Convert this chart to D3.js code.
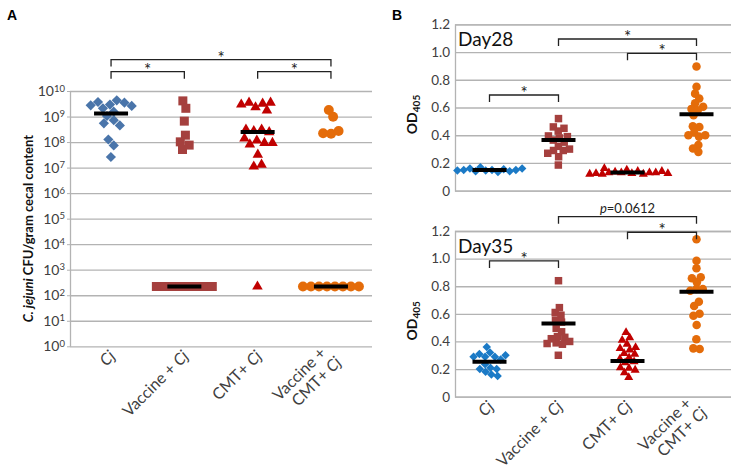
<!DOCTYPE html>
<html><head><meta charset="utf-8">
<script src="https://cdn.jsdelivr.net/npm/d3@7"></script>
<style>
body{margin:0;background:#fff;}
svg{display:block;font-family:Lato,"Open Sans",sans-serif;}
</style></head><body>
<svg id="chart" width="733" height="475"></svg>
<script>
// ---------- DATA ----------
const categories = ["Cj", "Vaccine + Cj", "CMT+ Cj", "Vaccine + CMT+ Cj"];
const categoryLines = [["Cj"], ["Vaccine + Cj"], ["CMT+ Cj"], ["Vaccine + ", "CMT+ Cj"]];

// Panel A: C. jejuni CFU / gram cecal content
const cfuCj = [3.7e9, 2.95e9, 2.1e9, 3.5e9, 1.55e9, 2.6e9, 2.75e9, 4.3e9, 1.05e9, 7.2e8, 5.4e8, 4.5e8, 1.26e8, 7.4e7, 2.6e7];
const cfuVaccine = [4.1e9, 2.1e9, 6.6e8, 1.86e8, 1.02e8, 7.6e7, 5.1e7, 220, 220, 220, 220, 220, 220, 220, 220];
const cfuCMT = [3.5e9, 3.2e9, 2.95e9, 1.74e9, 2.3e9, 3.5e9, 2.7e8, 3.1e8, 3.1e8, 2.45e8, 1.15e8, 9.3e7, 8.1e7, 9.3e7, 1.38e8, 3.2e7, 1.1e7, 1.3e7, 220];
const cfuVaccineCMT = [1.8e9, 9.8e8, 2.1e8, 2.7e8, 2.2e8, 220, 220, 220, 220, 220, 220, 220, 220];
const cfuMedians = [1.3e9, 220, 2.45e8, 220];
const cfuTicks = [1, 1e1, 1e2, 1e3, 1e4, 1e5, 1e6, 1e7, 1e8, 1e9, 1e10];
const cfuTickExponents = ["0", "1", "2", "3", "4", "5", "6", "7", "8", "9", "10"];
const cfuComparisons = [
  {a: 0, b: 3, label: "*", at: 1.7e11},
  {a: 0, b: 1, label: "*", at: 5.7e10},
  {a: 2, b: 3, label: "*", at: 5.7e10}
];

// Panel B: OD405, Day28
const odD28Cj = [0.14, 0.15, 0.135, 0.16, 0.15, 0.17, 0.145, 0.155, 0.14, 0.16, 0.145, 0.15];
const odD28Vaccine = [0.52, 0.45, 0.46, 0.43, 0.395, 0.38, 0.365, 0.39, 0.32, 0.29, 0.29, 0.30, 0.27, 0.245, 0.185, 0.35];
const odD28CMT = [0.16, 0.15, 0.14, 0.135, 0.13, 0.14, 0.13, 0.125, 0.13, 0.12, 0.125, 0.13, 0.12, 0.125, 0.12];
const odD28VaccineCMT = [0.895, 0.75, 0.70, 0.665, 0.63, 0.605, 0.59, 0.58, 0.545, 0.46, 0.465, 0.42, 0.39, 0.40, 0.40, 0.33, 0.305, 0.28];
const odD28Medians = [0.15, 0.365, 0.132, 0.552];
const day28Comparisons = [
  {a: 0, b: 1, label: "*", at: 0.69},
  {a: 1, b: 3, label: "*", at: 1.094},
  {a: 2, b: 3, label: "*", at: 0.991}
];

// Panel B: OD405, Day35
const odD35Cj = [0.18, 0.16, 0.32, 0.29, 0.20, 0.27, 0.29, 0.21, 0.31, 0.20, 0.36, 0.30, 0.235, 0.15, 0.29];
const odD35Vaccine = [0.84, 0.61, 0.645, 0.59, 0.555, 0.54, 0.495, 0.47, 0.435, 0.43, 0.385, 0.39, 0.42, 0.38, 0.30, 0.40];
const odD35CMT = [0.465, 0.427, 0.41, 0.38, 0.338, 0.357, 0.35, 0.282, 0.314, 0.309, 0.273, 0.253, 0.246, 0.206, 0.21, 0.193, 0.174, 0.14];
const odD35VaccineCMT = [1.14, 0.985, 0.93, 0.865, 0.857, 0.828, 0.78, 0.78, 0.768, 0.688, 0.657, 0.60, 0.587, 0.52, 0.416, 0.345, 0.35];
const odD35Medians = [0.253, 0.531, 0.258, 0.76];
const day35Comparisons = [
  {a: 0, b: 1, label: "*", at: 0.983},
  {a: 1, b: 3, label: "p=0.0612", at: 1.304},
  {a: 2, b: 3, label: "*", at: 1.191}
];
const odTicks = [0, 0.2, 0.4, 0.6, 0.8, 1.0, 1.2];
const odTickLabels = ["0", "0.2", "0.4", "0.6", "0.8", "1.0", "1.2"];

// ---------- STYLE ----------
const markerTypes = ["diamond", "square", "triangle", "circle"];
const colorsA = ["#4a75aa", "#a5403e", "#c00000", "#e46c0a"];
const colorsB = ["#1b7ac6", "#a5403e", "#c00000", "#e46c0a"];
const gridColor = "#b3b3b3";
const textColor = "#404040";

const svg = d3.select("#chart");

function symbolPath(type, big) {
  if (type === "diamond") return d3.symbol(d3.symbolSquare, big ? 52 : 36)();
  if (type === "square") return d3.symbol(d3.symbolSquare, big ? 81 : 56)();
  if (type === "triangle") return d3.symbol(d3.symbolTriangle, big ? 48 : 35)();
  return d3.symbol(d3.symbolCircle, big ? 78 : 57)();
}

function swarm(values, cx, yScale, r) {
  const nodes = values.map((v, i) => ({v, fy: yScale(v), y: yScale(v), x: cx + (i % 2 ? 1 : -1) * (0.4 + i * 0.35)}));
  const sim = d3.forceSimulation(nodes)
    .force("x", d3.forceX(cx).strength(0.05))
    .force("c", d3.forceCollide(r).strength(0.6))
    .stop();
  for (let i = 0; i < 300; i++) sim.tick();
  return nodes;
}

function drawPoints(g, groups, x, y, colors, r, big) {
  groups.forEach((vals, i) => {
    const nodes = swarm(vals, x(categories[i]), y, r);
    g.append("g").selectAll("path").data(nodes).join("path")
      .attr("d", symbolPath(markerTypes[i], big))
      .attr("transform", d => `translate(${d.x},${d.y})` + (markerTypes[i] === "diamond" ? " rotate(45)" : ""))
      .attr("fill", colors[i]);
  });
}

function drawMedians(g, medians, x, y) {
  g.append("g").selectAll("line").data(medians).join("line")
    .attr("x1", (d, i) => x(categories[i]) - 17)
    .attr("x2", (d, i) => x(categories[i]) + 17)
    .attr("y1", d => y(d)).attr("y2", d => y(d))
    .attr("stroke", "#000").attr("stroke-width", 4);
}

function drawBrackets(g, comps, x, y) {
  comps.forEach(c => {
    const x1 = x(categories[c.a]), x2 = x(categories[c.b]), yy = y(c.at);
    g.append("path").attr("d", `M${x1},${yy + 7}V${yy}H${x2}V${yy + 7}`)
      .attr("fill", "none").attr("stroke", "#222").attr("stroke-width", 1.3);
    if (c.label === "*") {
      g.append("text").attr("x", (x1 + x2) / 2).attr("y", yy + 4)
        .attr("text-anchor", "middle").style("font-size", "17px").attr("fill", "#222").text("*");
    } else {
      const t = g.append("text").attr("x", (x1 + x2) / 2).attr("y", yy - 3.5)
        .attr("text-anchor", "middle").style("font-size", "13px").attr("fill", "#222");
      const m = c.label.match(/^(p)(.*)$/);
      t.append("tspan").style("font-style", "italic").text(m[1]);
      t.append("tspan").text(m[2]);
    }
  });
}

function xLabels(g, x, y0) {
  categoryLines.forEach((lines, i) => {
    const t = g.append("text")
      .attr("transform", `translate(${x(categories[i]) + 1},${y0 + 7}) rotate(-45)`)
      .attr("text-anchor", "end").style("font-size", "16px").style("white-space", "pre")
      .attr("fill", textColor);
    lines.forEach((ln, j) => {
      const ts = t.append("tspan").attr("x", 0)
        .attr("dy", j === 0 ? `${0.35 - (lines.length - 1) * 0.55}em` : "1.1em");
      const parts = ln.split(/(Cj)/).filter(s => s.length);
      parts.forEach(p => {
        const s = ts.append("tspan").text(p);
        if (p === "Cj") s.style("font-style", "italic");
      });
    });
  });
}

// ---------- PANEL A ----------
const A = {left: 70, right: 372, top: 91, bottom: 346.3};
const xA = d3.scalePoint().domain(categories).range([A.left, A.right]).padding(0.56);
const yA = d3.scaleLog().domain([1, 1e10]).range([A.bottom, A.top]);
const gA = svg.append("g");

const gridA = gA.append("g").attr("transform", `translate(${A.left},0)`)
  .call(d3.axisLeft(yA).tickValues(cfuTicks).tickSize(-(A.right - A.left)).tickFormat(""));
gridA.selectAll(".tick line").attr("stroke", gridColor).attr("stroke-width", 1.3);
gridA.select(".domain").remove();

const axA = gA.append("g").attr("transform", `translate(${A.left},0)`)
  .call(d3.axisLeft(yA).tickValues(cfuTicks).tickSize(3).tickPadding(2).tickSizeOuter(0)
    .tickFormat(() => ""));
axA.select(".domain").attr("stroke", gridColor).attr("stroke-width", 1.3);
axA.selectAll(".tick line").attr("stroke", gridColor);
axA.selectAll(".tick text").each(function(d, i) {
  const t = d3.select(this).text(null).attr("fill", textColor).style("font-size", "14px")
    .attr("font-family", "Lato, sans-serif");
  t.append("tspan").text("10");
  t.append("tspan").attr("dy", "-0.45em").style("font-size", "9.5px").text(cfuTickExponents[i]);
});

drawPoints(gA, [cfuCj, cfuVaccine, cfuCMT, cfuVaccineCMT], xA, yA, colorsA, 4, true);
drawMedians(gA, cfuMedians, xA, yA);
drawBrackets(gA, cfuComparisons, xA, yA);
xLabels(gA, xA, A.bottom);

// y title A
const tA = gA.append("text").attr("transform", `translate(33,${(A.top + A.bottom) / 2 + 10}) rotate(-90)`)
  .attr("text-anchor", "middle").style("font-size", "13px").style("font-weight", "bold").attr("fill", "#111");
tA.append("tspan").style("font-style", "italic").text("C. jejuni");
tA.append("tspan").text(" CFU/gram cecal content");

svg.append("text").attr("x", 7).attr("y", 20).style("font-family", "'Liberation Sans', Arial, sans-serif")
  .style("font-weight", "bold").style("font-size", "14px").text("A");
svg.append("text").attr("x", 392).attr("y", 20).style("font-family", "'Liberation Sans', Arial, sans-serif")
  .style("font-weight", "bold").style("font-size", "14px").text("B");

// ---------- PANEL B ----------
function panelB(top, bottom, groups, medians, comps, dayLabel, withX) {
  const left = 455, right = 731;
  const x = d3.scalePoint().domain(categories).range([left, right]).padding(0.5);
  const y = d3.scaleLinear().domain([0, 1.2]).range([bottom, top]);
  const g = svg.append("g");
  const grid = g.append("g").attr("transform", `translate(${left},0)`)
    .call(d3.axisLeft(y).tickValues(odTicks).tickSize(-(right - left)).tickPadding(5)
      .tickFormat((d, i) => odTickLabels[i]));
  grid.selectAll(".tick line").attr("stroke", gridColor).attr("stroke-width", 1.3);
  grid.select(".domain").attr("stroke", gridColor).attr("stroke-width", 1.3);
  grid.selectAll(".tick text").attr("fill", textColor).style("font-size", "13.5px")
    .attr("font-family", "Lato, sans-serif");
  g.append("text").attr("x", left + 3).attr("y", y(1.2) + 22).style("font-size", "19px")
    .attr("fill", "#111").text(dayLabel);
  drawPoints(g, groups, x, y, colorsB, 3.2, false);
  drawMedians(g, medians, x, y);
  drawBrackets(g, comps, x, y);
  const t = g.append("text").attr("transform", `translate(417,${(top + bottom) / 2 + 7}) rotate(-90)`)
    .attr("text-anchor", "middle").style("font-weight", "bold").style("font-size", "14px").attr("fill", "#111");
  t.append("tspan").text("OD");
  t.append("tspan").attr("dy", "0.3em").style("font-size", "10px").text("405");
  if (withX) xLabels(g, x, bottom);
}
panelB(24.3, 190.7, [odD28Cj, odD28Vaccine, odD28CMT, odD28VaccineCMT], odD28Medians, day28Comparisons, "Day28", false);
panelB(231, 396.7, [odD35Cj, odD35Vaccine, odD35CMT, odD35VaccineCMT], odD35Medians, day35Comparisons, "Day35", true);
</script>
</body></html>
